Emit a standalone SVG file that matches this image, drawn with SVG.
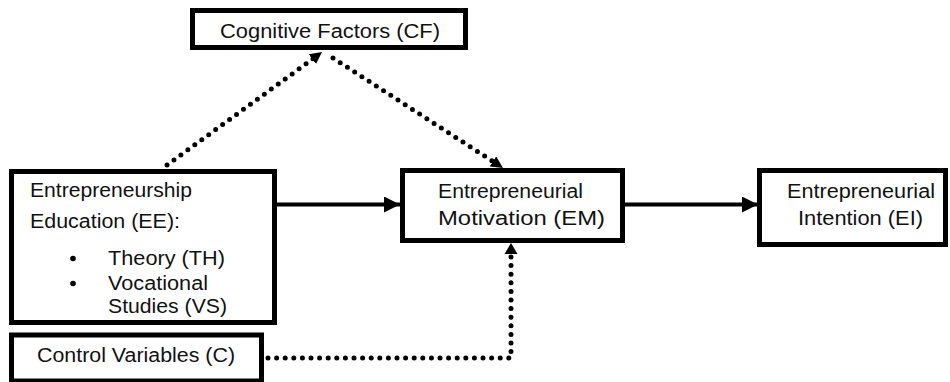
<svg xmlns="http://www.w3.org/2000/svg" width="950" height="382" viewBox="0 0 950 382">
<style>
  .box { fill: #fff; stroke: #000; stroke-width: 5; }
  .lbl { font-family: "Liberation Sans", Arial, sans-serif; font-size: 20px; fill: #111; }
  .solid { stroke: #000; stroke-width: 4; fill: none; }
  .dot { stroke: #000; stroke-width: 5; fill: none; stroke-linecap: round; stroke-dasharray: 0 8.6; }
</style>
<defs>
  <marker id="ah" viewBox="0 0 16 16" refX="16" refY="8" markerWidth="16" markerHeight="16" markerUnits="userSpaceOnUse" orient="auto">
    <path d="M0,0 L16,8 L0,16 Z" fill="#000"/>
  </marker>
  <marker id="ahd" viewBox="0 0 12 12" refX="12" refY="6" markerWidth="12" markerHeight="12" markerUnits="userSpaceOnUse" orient="auto">
    <path d="M0,0 L12,6 L0,12 Z" fill="#000"/>
  </marker>
</defs>
<rect width="950" height="382" fill="#fff"/>

<g id="connectors">
  <line class="solid" x1="277" y1="204.5" x2="400" y2="204.5" marker-end="url(#ah)"/>
  <line class="solid" x1="625" y1="204.5" x2="758" y2="204.5" marker-end="url(#ah)"/>
  <line class="dot" x1="167" y1="165" x2="314" y2="58"/>
  <path d="M314,58 L322,52" fill="none" stroke="none" marker-end="url(#ahd)"/>
  <line class="dot" x1="333" y1="58" x2="493" y2="161.5"/>
  <path d="M493,161.5 L503,168" fill="none" stroke="none" marker-end="url(#ahd)"/>
  <path class="dot" d="M268,358 L511,358 L511,255"/>
  <polygon points="511,243 504.5,254 517.5,254" fill="#000"/>
</g>

<g id="cf">
  <rect class="box" x="192.5" y="10.5" width="273" height="37"/>
  <text class="lbl" x="220" y="38" textLength="220" lengthAdjust="spacingAndGlyphs">Cognitive Factors (CF)</text>
</g>

<g id="ee">
  <rect class="box" x="11.5" y="171.5" width="263" height="151"/>
  <text class="lbl" x="30" y="197" textLength="162" lengthAdjust="spacingAndGlyphs">Entrepreneurship</text>
  <text class="lbl" x="30" y="228" textLength="150" lengthAdjust="spacingAndGlyphs">Education (EE):</text>
  <circle cx="73" cy="258.5" r="2.8" fill="#000"/>
  <circle cx="73" cy="283.5" r="2.8" fill="#000"/>
  <text class="lbl" x="108" y="265" textLength="117" lengthAdjust="spacingAndGlyphs">Theory (TH)</text>
  <text class="lbl" x="108" y="290" textLength="100" lengthAdjust="spacingAndGlyphs">Vocational</text>
  <text class="lbl" x="108" y="313" textLength="119" lengthAdjust="spacingAndGlyphs">Studies (VS)</text>
</g>

<g id="control">
  <rect class="box" x="11.5" y="335" width="250" height="46"/>
  <text class="lbl" x="37" y="362" textLength="198" lengthAdjust="spacingAndGlyphs">Control Variables (C)</text>
</g>

<g id="em">
  <rect class="box" x="402.5" y="170.5" width="220" height="70"/>
  <text class="lbl" x="438" y="198" textLength="145" lengthAdjust="spacingAndGlyphs">Entrepreneurial</text>
  <text class="lbl" x="438" y="225" textLength="167" lengthAdjust="spacingAndGlyphs">Motivation (EM)</text>
</g>

<g id="ei">
  <rect class="box" x="759.5" y="170.5" width="186" height="74"/>
  <text class="lbl" x="787" y="198" textLength="148" lengthAdjust="spacingAndGlyphs">Entrepreneurial</text>
  <text class="lbl" x="798" y="225" textLength="125" lengthAdjust="spacingAndGlyphs">Intention (EI)</text>
</g>
</svg>
